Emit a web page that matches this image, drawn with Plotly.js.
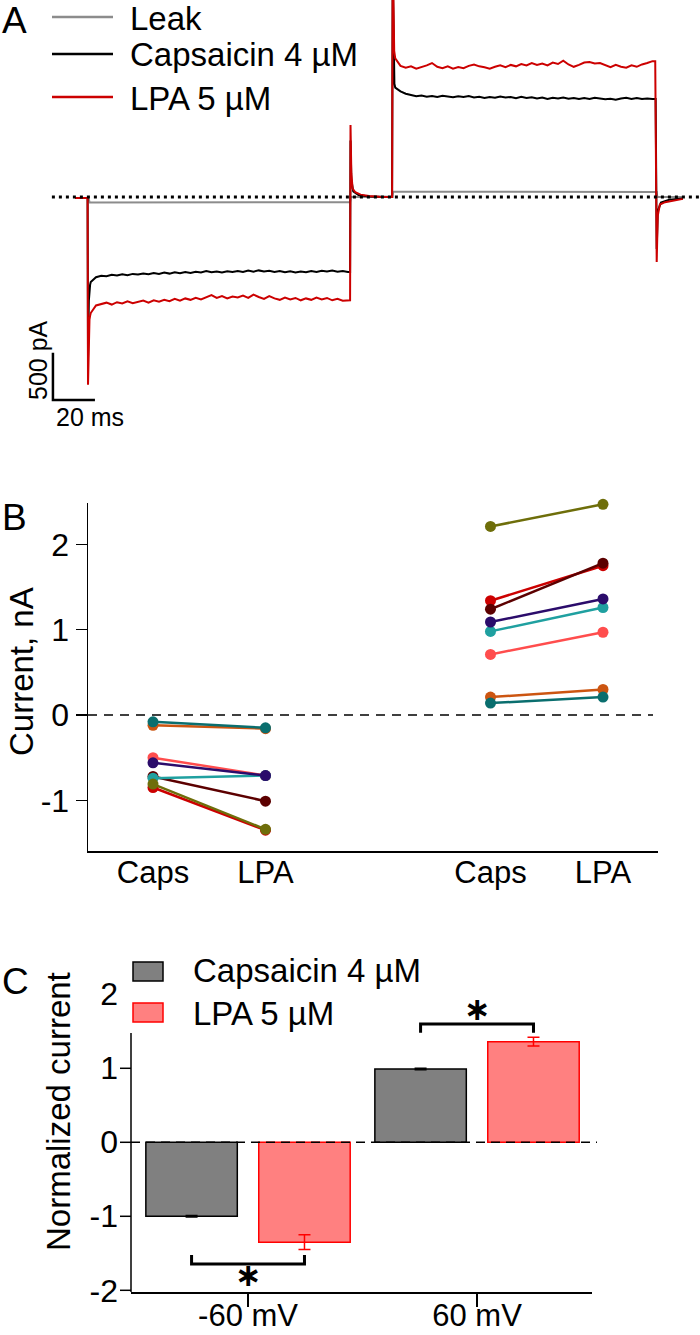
<!DOCTYPE html>
<html><head><meta charset="utf-8">
<script src="https://cdn.plot.ly/plotly-3.0.1.min.js"></script>
<style>html,body{margin:0;padding:0;background:#fff}#chart{width:700px;height:1335px}</style>
</head><body><div id="chart"></div>
<script>
// ================= Panel A : whole-cell current traces (ms, pA) =================
const traceNames  = ['Leak', 'Capsaicin 4 µM', 'LPA 5 µM'];
const traceColors = ['#8c8c8c', '#000000', '#cc0000'];
const sampleInterval = 2.5;          // ms between samples in the step segments
const step1Start = 7.5, step2Start = 152.5;

// -60 mV step, LPA 5 µM
const lpaStep1 = [-1230,-1150,-1135,-1120,-1140,-1115,-1128,-1105,-1125,-1110,
  -1098,-1120,-1095,-1110,-1090,-1105,-1080,-1100,-1075,-1090,
  -1068,-1085,-1060,-1040,-1070,-1050,-1075,-1055,-1065,-1045,
  -1070,-1035,-1060,-1080,-1050,-1075,-1090,-1065,-1085,-1070,
  -1095,-1075,-1090,-1065,-1085,-1070,-1095,-1080,-1100,-1095];
// -60 mV step, Capsaicin 4 µM
const capsStep1 = [-900,-850,-835,-840,-825,-832,-818,-828,-815,-822,
  -810,-818,-805,-815,-800,-812,-798,-808,-795,-805,
  -792,-800,-785,-798,-790,-800,-788,-796,-785,-795,
  -780,-792,-778,-790,-782,-795,-785,-798,-788,-800,
  -790,-798,-785,-795,-782,-790,-780,-792,-785,-795];
// +60 mV step, LPA 5 µM
const lpaStep2 = [1470,1390,1370,1385,1360,1375,1395,1420,1380,1365,
  1385,1360,1378,1365,1390,1405,1385,1375,1360,1380,
  1395,1375,1400,1385,1410,1395,1420,1400,1415,1395,
  1425,1410,1445,1405,1380,1400,1425,1430,1415,1420,
  1395,1375,1400,1380,1370,1395,1380,1405,1420,1440];
// +60 mV step, Capsaicin 4 µM
const capsStep2 = [1160,1120,1095,1080,1068,1075,1062,1070,1060,1072,
  1065,1058,1068,1060,1070,1055,1062,1050,1060,1052,
  1065,1055,1060,1048,1062,1050,1058,1045,1055,1040,
  1052,1045,1055,1042,1050,1038,1048,1040,1052,1045,
  1035,1042,1030,1045,1052,1040,1048,1038,1045,1040];

// transients (capacitive spikes and tails)
const lpaPreT  = [0, 6.0, 6.2, 6.5, 6.9, 7.2];
const lpaPreI  = [-10, -10, -1990, -1500, -1300, -1260];
const lpaMidT  = [131.0, 131.2, 131.6, 132.2, 133.5, 136, 140, 145, 151.0, 151.3, 151.6, 152.0];
const lpaMidI  = [-1095, 763, 250, 90, 50, 25, 10, 3, 0, 2600, 1800, 1550];
const lpaEndT  = [276.3, 277.0, 277.5, 278.5, 281, 285, 289.5];
const lpaEndI  = [1440, -690, -200, -80, -55, -35, -20];

const capsPreT = [0, 6.0, 6.2, 6.6, 7.2];
const capsPreI = [-10, -10, -1700, -1100, -930];
const capsMidT = [131.0, 131.2, 131.6, 132.5, 135, 140, 151.0, 151.3, 151.7, 152.1];
const capsMidI = [-795, 600, 180, 60, 20, 5, 0, 2400, 1400, 1200];
const capsEndT = [276.5, 277.0, 277.5, 279, 283, 289.5];
const capsEndI = [1040, -550, -150, -60, -30, -15];

const leakT = [0, 6.4, 7.0, 20, 40, 60, 80, 100, 120, 131.0, 131.3, 140, 151.2, 151.5, 170, 190, 210, 230, 250, 270, 277.0, 277.3, 289.5];
const leakI = [-10, -10, -58, -57, -58, -56, -57, -55, -56, -55, 0, 0, 0, 55, 56, 54, 55, 54, 55, 54, 54, 0, 0];

const baselineSpan = [-11, 297.6];        // dotted zero-current line (ms)
const scaleBarOrigin = [-10.5, -2152];    // ms, pA
const scaleBarSize = [20, 500];           // 20 ms, 500 pA

// ================= Panel B : paired currents (nA) =================
const cellColors = ['#cc0000', '#cc5511', '#ff4d4d', '#5c0000', '#1fa0a0', '#2b0c6b', '#6e6e0a', '#0a6e6e'];
const capsNeg60 = [-0.85, -0.12, -0.50, -0.72, -0.74, -0.56, -0.81, -0.08];
const lpaNeg60  = [-1.35, -0.16, -0.71, -1.01, -0.71, -0.71, -1.34, -0.15];
const capsPos60 = [ 1.34,  0.21,  0.71,  1.24,  0.98,  1.09,  2.21,  0.14];
const lpaPos60  = [ 1.75,  0.30,  0.97,  1.78,  1.26,  1.36,  2.47,  0.21];
const pairPositions = [1, 2, 4, 5];
const pairLabels = ['Caps', 'LPA', 'Caps', 'LPA'];
const bTicks = [-1, 0, 1, 2];

// ================= Panel C : normalized current =================
const voltages = ['-60 mV', '60 mV'];
const capsNorm = [-1.00, 0.99];
const capsNormErr = [0.01, 0.01];
const lpaNorm = [-1.35, 1.36];
const lpaNormErr = [0.10, 0.06];
const cTicks = [-2, -1, 0, 1, 2];
const cTickMarks = [-2, -1, 0, 1];
const sigBracketY = [-1.645, 1.60];
const sigBracketEndY = [-1.524, 1.48];
const sigStarY = [-1.793, 1.801];

// ---------------------------------------------------------------
const FONT = 'Liberation Sans, Arial, Helvetica, sans-serif';
const W = 700, H = 1335;
const px = x => x / W;
const py = y => 1 - y / H;

function assemble(preT, preI, s1, midT, midI, s2, endT, endI) {
  const t = [], v = [];
  preT.forEach((x, i) => { t.push(x); v.push(preI[i]); });
  s1.forEach((x, i) => { t.push(step1Start + i * sampleInterval); v.push(x); });
  midT.forEach((x, i) => { t.push(x); v.push(midI[i]); });
  s2.forEach((x, i) => { t.push(step2Start + i * sampleInterval); v.push(x); });
  endT.forEach((x, i) => { t.push(x); v.push(endI[i]); });
  return {t, v};
}
const lpaTrace  = assemble(lpaPreT, lpaPreI, lpaStep1, lpaMidT, lpaMidI, lpaStep2, lpaEndT, lpaEndI);
const capsTrace = assemble(capsPreT, capsPreI, capsStep1, capsMidT, capsMidI, capsStep2, capsEndT, capsEndI);

const data = [];
data.push({type:'scatter', mode:'lines', x: leakT, y: leakI, xaxis:'x', yaxis:'y',
  line:{color: traceColors[0], width:2}, name: traceNames[0], showlegend:false});
data.push({type:'scatter', mode:'lines', x: capsTrace.t, y: capsTrace.v, xaxis:'x', yaxis:'y',
  line:{color: traceColors[1], width:2}, name: traceNames[1], showlegend:false});
data.push({type:'scatter', mode:'lines', x: lpaTrace.t, y: lpaTrace.v, xaxis:'x', yaxis:'y',
  line:{color: traceColors[2], width:2}, name: traceNames[2], showlegend:false});

// Panel B
cellColors.forEach((c, i) => {
  data.push({type:'scatter', mode:'lines+markers', xaxis:'x2', yaxis:'y2',
    x: [pairPositions[0], pairPositions[1], null, pairPositions[2], pairPositions[3]],
    y: [capsNeg60[i], lpaNeg60[i], null, capsPos60[i], lpaPos60[i]],
    line:{color:c, width:2.5}, marker:{color:c, size:11}, connectgaps:false, showlegend:false,
    cliponaxis:false});
});

// Panel C
data.push({type:'bar', xaxis:'x3', yaxis:'y3', x: voltages, y: capsNorm, name:'Capsaicin 4 µM',
  marker:{color:'#808080', line:{color:'#000000', width:1.5}},
  error_y:{type:'data', array: capsNormErr, visible:true, color:'#000000', thickness:1.5, width:6},
  showlegend:false});
data.push({type:'bar', xaxis:'x3', yaxis:'y3', x: voltages, y: lpaNorm, name:'LPA 5 µM',
  marker:{color:'#ff8080', line:{color:'#ff0000', width:1.5}},
  error_y:{type:'data', array: lpaNormErr, visible:true, color:'#ff0000', thickness:1.5, width:6},
  showlegend:false});

const tickFont = {family: FONT, size: 32, color:'#000'};

const layout = {
  width: W, height: H,
  margin: {l:0, r:0, t:0, b:0},
  paper_bgcolor:'#ffffff', plot_bgcolor:'rgba(0,0,0,0)',
  font: {family: FONT, color:'#000'},
  showlegend: false,
  barmode: 'group', bargap: 0.014, bargroupgap: 0.19,
  // Panel A
  xaxis: {domain:[0,1], range:[-35.71, 297.62], visible:false, anchor:'y'},
  yaxis: {domain:[py(430), 1], range:[-2469.8, 2088.2], visible:false, anchor:'x'},
  // Panel B
  xaxis2: {domain:[px(88), px(658)], range:[0.4222, 5.489], anchor:'y2',
    showline:true, linecolor:'#000', linewidth:1.5, showgrid:false, zeroline:false,
    tickmode:'array', tickvals: pairPositions, ticktext: pairLabels, ticks:'',
    ticklabelstandoff: -7,
    tickfont:{family: FONT, size: 31, color:'#000'}},
  yaxis2: {domain:[py(851), py(503)], range:[-1.594, 2.485], anchor:'x2',
    showline:true, linecolor:'#000', linewidth:1.5, showgrid:false, zeroline:false,
    tickmode:'array', tickvals: bTicks, ticktext: bTicks.map(String),
    ticks:'outside', ticklen:11, tickwidth:1.5, tickcolor:'#000', tickfont: tickFont},
  // Panel C
  xaxis3: {domain:[px(131), px(592)], range:[-0.511, 1.502], anchor:'y3', type:'category',
    showline:true, linecolor:'#000', linewidth:1.5, showgrid:false, zeroline:false,
    ticks:'outside', ticklen:13, tickwidth:1.5, tickcolor:'#000', ticklabelstandoff: -18,
    tickfont:{family: FONT, size: 31, color:'#000'}},
  yaxis3: {domain:[py(1292), py(980)], range:[-2.023, 2.193], anchor:'x3',
    showline:false, showgrid:false, zeroline:false,
    tickmode:'array', tickvals: cTicks, ticktext: cTicks.map(String),
    ticks:'', ticklabelstandoff: 12, tickfont: tickFont},
  shapes: [], annotations: []
};

const S = layout.shapes, A = layout.annotations;

// Panel A decorations
S.push({type:'line', xref:'x', yref:'y', x0: baselineSpan[0], x1: baselineSpan[1], y0:0, y1:0,
  line:{color:'#000', width:3, dash:'3px,4px'}});
S.push({type:'path', xref:'x', yref:'y',
  path: `M ${scaleBarOrigin[0]},${scaleBarOrigin[1] + scaleBarSize[1]} L ${scaleBarOrigin[0]},${scaleBarOrigin[1]} L ${scaleBarOrigin[0] + scaleBarSize[0]},${scaleBarOrigin[1]}`,
  line:{color:'#000', width:2.5}});
A.push({xref:'paper', yref:'paper', x:px(38), y:py(360), text: scaleBarSize[1] + ' pA', textangle:-90,
  showarrow:false, xanchor:'center', yanchor:'middle', font:{family:FONT, size:25, color:'#000'}});
A.push({xref:'paper', yref:'paper', x:px(90), y:py(417), text: scaleBarSize[0] + ' ms',
  showarrow:false, xanchor:'center', yanchor:'middle', font:{family:FONT, size:25, color:'#000'}});
// Panel A legend
const legAy = [17, 54, 97];
traceNames.forEach((n, i) => {
  S.push({type:'line', xref:'paper', yref:'paper', x0:px(52), x1:px(113), y0:py(legAy[i]), y1:py(legAy[i]),
    line:{color: traceColors[i], width:2.5}});
  A.push({xref:'paper', yref:'paper', x:px(128), y:py(legAy[i] + 1), text:n, showarrow:false,
    xanchor:'left', yanchor:'middle', font:{family:FONT, size:33, color:'#000'}});
});

// Panel B decorations
S.push({type:'line', xref:'paper', yref:'y2', x0:px(88), x1:px(653), y0:0, y1:0,
  line:{color:'#000', width:1.5, dash:'9px,7px'}});
A.push({xref:'paper', yref:'paper', x:px(21), y:py(672), text:'Current, nA', textangle:-90,
  showarrow:false, xanchor:'center', yanchor:'middle', font:{family:FONT, size:33, color:'#000'}});

// Panel C decorations
S.push({type:'line', xref:'paper', yref:'y3', x0:px(131), x1:px(131), y0:-2.023, y1:1.477,
  line:{color:'#000', width:1.5}});
cTickMarks.forEach(v => S.push({type:'line', xref:'paper', yref:'y3', x0:px(120), x1:px(131), y0:v, y1:v,
  line:{color:'#000', width:1.5}}));
S.push({type:'line', xref:'paper', yref:'y3', x0:px(131), x1:px(597), y0:0, y1:0,
  line:{color:'#000', width:1.5, dash:'9px,6px'}});
// significance brackets (between bar centres of each group)
const half = 0.2465;
[0, 1].forEach(g => {
  const xa = g - half, xb = g + half, yb = sigBracketY[g], ye = sigBracketEndY[g];
  S.push({type:'path', xref:'x3', yref:'y3',
    path:`M ${xa},${ye} L ${xa},${yb} L ${xb},${yb} L ${xb},${ye}`,
    line:{color:'#000', width:3}});
  A.push({xref:'x3', yref:'y3', x:g, y:sigStarY[g], text:'<b>∗</b>', showarrow:false,
    xanchor:'center', yanchor:'middle', borderpad:0,
    font:{family:'DejaVu Sans, ' + FONT, size:32, color:'#000'}});
});
A.push({xref:'paper', yref:'paper', x:px(58), y:py(1112), text:'Normalized current', textangle:-90,
  showarrow:false, xanchor:'center', yanchor:'middle', font:{family:FONT, size:33, color:'#000'}});
// Panel C legend
const legC = [{y0:962, y1:981, fill:'#808080', edge:'#000000', text:'Capsaicin 4 µM', ty:970},
              {y0:1003, y1:1022, fill:'#ff8080', edge:'#ff0000', text:'LPA 5 µM', ty:1012}];
legC.forEach(l => {
  S.push({type:'rect', xref:'paper', yref:'paper', x0:px(133), x1:px(163), y0:py(l.y1), y1:py(l.y0),
    fillcolor:l.fill, line:{color:l.edge, width:1.5}});
  A.push({xref:'paper', yref:'paper', x:px(191), y:py(l.ty + 1), text:l.text, showarrow:false,
    xanchor:'left', yanchor:'middle', font:{family:FONT, size:33, color:'#000'}});
});

// Panel letters
[['A', 20], ['B', 516], ['C', 980]].forEach(([t, y]) => A.push({xref:'paper', yref:'paper', x:px(0), y:py(y + 1),
  text:t, showarrow:false, xanchor:'left', yanchor:'middle', font:{family:FONT, size:37, color:'#000'}}));

Plotly.newPlot('chart', data, layout, {staticPlot:true, displayModeBar:false});
</script>
</body></html>
